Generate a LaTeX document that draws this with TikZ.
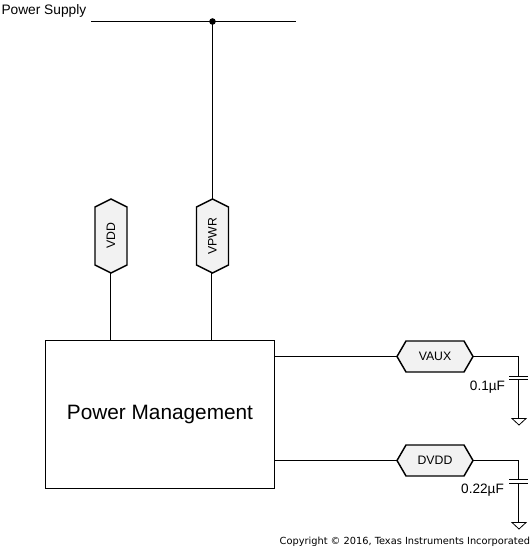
\documentclass[tikz,border=0pt]{standalone}
\usepackage{fontspec}
\setmainfont{Liberation Sans}
\newfontfamily\cpfont{DejaVu Sans}
\newlength{\upx}\setlength{\upx}{0.75pt}
\tikzset{
  wire/.style={draw=black,line width=0.75pt},
  hexshape/.style={draw=black,line width=1.1pt,fill=black!5,line join=miter},
  hexh/.style={minimum width=76\upx,minimum height=31\upx,inner sep=0pt,outer sep=0pt,font=\fontsize{9.2}{10}\selectfont},
  hexv/.style={hexh,rotate=90,minimum width=74\upx,minimum height=32\upx},
  blockbox/.style={draw=black,line width=0.75pt,minimum width=229\upx,minimum height=148\upx,inner sep=0pt,outer sep=0pt,font=\fontsize{15.6}{18}\selectfont},
  lab/.style={inner sep=0pt,outer sep=0pt,font=\fontsize{10.2}{11}\selectfont},
  plate/.style={draw=black,line width=0.75pt},
  gnd/.style={draw=black,line width=0.6pt},
}
\newcommand{\hexH}[4]{%
  \path[hexshape] (#2-38,#3) -- (#2-29,#3-15.5) -- (#2+29,#3-15.5) -- (#2+38,#3) -- (#2+29,#3+15.5) -- (#2-29,#3+15.5) -- cycle;
  \node[hexh] (#1) at (#2,#3) {#4};}
\newcommand{\hexV}[4]{%
  \path[hexshape] (#2,#3-37) -- (#2+16,#3-29) -- (#2+16,#3+29) -- (#2,#3+37) -- (#2-16,#3+29) -- (#2-16,#3-29) -- cycle;
  \node[hexv] (#1) at (#2,#3) {#4};}
\begin{document}
\begin{tikzpicture}[x=0.75pt,y=-0.75pt]
\useasboundingbox (0,0) rectangle (531,549);
\node[lab,anchor=west,font=\fontsize{10.3}{12}\selectfont] (ps) at (1.5,10.5) {Power Supply};
\coordinate (busl) at (91,21.5);
\coordinate (busr) at (296,21.5);
\coordinate (tap) at (212.5,21.5);
\draw[wire] (busl) -- (busr);
\fill (tap) circle (3.3);
\node[blockbox] (pm) at (160,414.5) {\raisebox{-2.3pt}{Power Management}};
\hexV{vdd}{111}{236}{VDD}
\hexV{vpwr}{212.5}{236}{VPWR}
\draw[wire] (tap) -- (tap |- vpwr.east);
\draw[wire] ([xshift=-0.5*0.75pt]vdd.west) -- ([xshift=-0.5*0.75pt]vdd.west |- pm.north);
\draw[wire] ([xshift=-1*0.75pt]vpwr.west) -- ([xshift=-1*0.75pt]vpwr.west |- pm.north);
\hexH{vaux}{435}{356.5}{VAUX}
\hexH{dvdd}{435}{460.5}{DVDD}
\draw[wire] (pm.east |- vaux.west) -- (vaux.west);
\draw[wire] (pm.east |- dvdd.west) -- (dvdd.west);
% VAUX capacitor
\coordinate (c1a) at (518.5,376.5);
\coordinate (c1b) at (518.5,379.5);
\coordinate (g1) at (518.5,418.5);
\draw[wire] (vaux.east) -| (c1a);
\draw[plate] (509,376.5) -- (528,376.5);
\draw[plate] (509,379.5) -- (528,379.5);
\draw[wire] (c1b) -- (g1);
\draw[gnd] (512,418.5) -- (526,418.5) -- (519,425) -- cycle;
\node[lab] (c1l) at (487.5,387) {0.1µF};
% DVDD capacitor
\coordinate (c2a) at (518.5,479.5);
\coordinate (c2b) at (518.5,483.5);
\coordinate (g2) at (518.5,522.5);
\draw[wire] (dvdd.east) -| (c2a);
\draw[plate] (509,479.5) -- (528,479.5);
\draw[plate] (509,483.5) -- (528,483.5);
\draw[wire] (c2b) -- (g2);
\draw[gnd] (512,522.5) -- (526,522.5) -- (519,529) -- cycle;
\node[lab] (c2l) at (482.5,490) {0.22µF};
\node[inner sep=0pt,outer sep=0pt,anchor=east,font=\cpfont\fontsize{7.35}{8}\selectfont] (cp) at (530,541.5) {Copyright © 2016, Texas Instruments Incorporated};
\end{tikzpicture}
\end{document}
